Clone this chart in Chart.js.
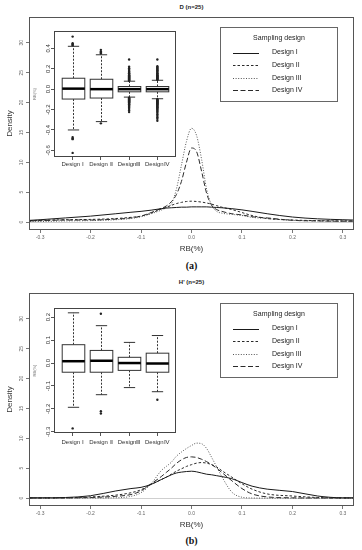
<!DOCTYPE html>
<html>
<head>
<meta charset="utf-8">
<script src="https://cdn.jsdelivr.net/npm/chart.js@4.4.1/dist/chart.umd.min.js"></script>
<style>
    body { margin: 0; width: 362px; height: 550px; background: #fff; position: relative; overflow: hidden; font-family: "Liberation Sans", Arial, sans-serif; }
    .abs { position: absolute; }
    .ptitle { width: 325px; left: 29px; text-align: center; font-size: 6px; font-weight: bold; color: #222; }
    .tag { width: 325px; left: 29px; text-align: center; font: bold 10px "Liberation Serif", serif; color: #111; }
</style>
</head>
<body>

<div class="abs ptitle" style="top:4px">D (n=25)</div>
<canvas id="mainA" class="abs" style="left:0;top:0" width="362" height="258"></canvas>
<canvas id="insetA" class="abs" style="left:30px;top:27px" width="150" height="148"></canvas>
<div class="abs tag" style="top:260px">(a)</div>

<div class="abs ptitle" style="top:279px">H' (n=25)</div>
<canvas id="mainB" class="abs" style="left:0;top:276px" width="362" height="258"></canvas>
<canvas id="insetB" class="abs" style="left:30px;top:304px" width="150" height="147"></canvas>
<div class="abs tag" style="top:535px">(b)</div>

<script>
// x grid of the density curves
const xGrid = [-0.32, -0.3, -0.25, -0.2, -0.15, -0.12, -0.1, -0.08, -0.06, -0.05, -0.04, -0.03, -0.02, -0.01,
    0, 0.01, 0.02, 0.03, 0.04, 0.05, 0.06, 0.08, 0.1, 0.12, 0.15, 0.2, 0.25, 0.3, 0.32];

// D (n=25) densities
const densA1 = [0.3, 0.4, 0.7, 1.0, 1.4, 1.65, 1.8, 2.0, 2.25, 2.35, 2.4, 2.45, 2.5, 2.5,
    2.55, 2.55, 2.55, 2.55, 2.5, 2.45, 2.4, 2.25, 2.05, 1.8, 1.4, 0.85, 0.55, 0.4, 0.35];
const densA2 = [0.25, 0.3, 0.4, 0.45, 0.6, 0.8, 1.0, 1.5, 2.2, 2.5, 2.8, 3.1, 3.3, 3.45,
    3.5, 3.45, 3.35, 3.2, 3.0, 2.75, 2.5, 2.1, 1.6, 1.1, 0.6, 0.35, 0.25, 0.2, 0.2];
const densA3 = [0.1, 0.1, 0.2, 0.25, 0.4, 0.6, 0.9, 1.4, 2.0, 2.4, 3.0, 5.5, 9.5, 13.5,
    15.7, 14.5, 10.5, 5.5, 2.8, 1.8, 1.5, 1.3, 1.1, 0.8, 0.6, 0.3, 0.2, 0.15, 0.15];
const densA4 = [0.2, 0.25, 0.35, 0.35, 0.5, 0.7, 1.0, 1.6, 2.3, 2.7, 3.4, 4.6, 6.8, 10.0,
    12.4, 11.8, 8.5, 4.8, 2.8, 2.1, 1.8, 1.4, 1.2, 0.9, 0.7, 0.3, 0.2, 0.15, 0.15];

// H' (n=25) densities
const densB1 = [0.05, 0.05, 0.1, 0.4, 1.2, 1.6, 1.8, 2.3, 3.1, 3.5, 3.9, 4.2, 4.35, 4.45,
    4.5, 4.4, 4.2, 4.0, 3.9, 3.75, 3.6, 3.25, 2.6, 2.0, 1.5, 1.1, 0.35, 0.05, 0.05];
const densB2 = [0.02, 0.03, 0.05, 0.2, 0.5, 0.9, 1.4, 2.3, 3.1, 3.5, 4.0, 4.5, 4.9, 5.3,
    5.6, 5.85, 5.95, 5.85, 5.6, 5.2, 4.6, 3.5, 2.4, 1.5, 0.7, 0.35, 0.1, 0.02, 0.02];
const densB3 = [0, 0, 0, 0.02, 0.05, 0.3, 0.9, 2.4, 4.6, 5.3, 6.0, 7.0, 7.7, 8.3,
    8.8, 9.2, 9.1, 8.3, 6.8, 5.2, 3.6, 1.0, 0.15, 0.02, 0, 0, 0, 0, 0];
const densB4 = [0.02, 0.02, 0.03, 0.1, 0.3, 0.6, 1.2, 2.4, 3.6, 4.3, 5.0, 5.8, 6.4, 6.8,
    6.9, 6.8, 6.5, 6.1, 5.6, 5.0, 4.3, 2.9, 1.6, 0.7, 0.2, 0.05, 0.02, 0.02, 0.02];

const xTicks = [-0.3, -0.2, -0.1, 0, 0.1, 0.2, 0.3];
const yTicks = [0, 5, 10, 15, 20, 25, 30];

const designs = ['Design \u2160', 'Design \u2161', 'Design\u2162', 'Design\u2163'];
const legendLabels = ['Design I', 'Design II', 'Design III', 'Design IV'];

// boxplot stats: [lower whisker, Q1, median, Q3, upper whisker]
const boxA = [
    [-0.40, -0.097, 0.005, 0.107, 0.42],
    [-0.318, -0.087, 0.0, 0.097, 0.337],
    [-0.078, -0.026, 0.0, 0.026, 0.078],
    [-0.094, -0.026, 0.0, 0.026, 0.087]
];
const outA = [
    [0.43, 0.44, 0.45, 0.515, -0.47, -0.48, -0.49, -0.625],
    [0.35, 0.36, 0.37, 0.385, -0.335],
    [0.082, 0.087, 0.092, 0.097, 0.102, 0.107, 0.112, 0.117, 0.122, 0.127, 0.132, 0.137, 0.142, 0.148,
        0.155, 0.162, 0.17, 0.178, 0.19, 0.205, 0.22, 0.29,
        -0.083, -0.088, -0.093, -0.098, -0.103, -0.108, -0.113, -0.118, -0.123, -0.128, -0.134, -0.14,
        -0.147, -0.155, -0.163, -0.172, -0.182, -0.195, -0.21, -0.225],
    [0.092, 0.097, 0.102, 0.107, 0.112, 0.117, 0.122, 0.127, 0.132, 0.137, 0.142, 0.148, 0.155, 0.162,
        0.17, 0.178, 0.186, 0.195, 0.205, 0.215, 0.225, 0.29,
        -0.098, -0.103, -0.108, -0.113, -0.118, -0.123, -0.128, -0.133, -0.138, -0.143, -0.148, -0.154,
        -0.16, -0.166, -0.172, -0.178, -0.185, -0.192, -0.2, -0.21, -0.22, -0.232, -0.245, -0.26,
        -0.275, -0.29, -0.31]
];
const boxB = [
    [-0.193, -0.04, 0.008, 0.08, 0.219],
    [-0.138, -0.04, 0.01, 0.055, 0.163],
    [-0.107, -0.032, 0.0, 0.025, 0.09],
    [-0.125, -0.04, -0.002, 0.043, 0.12]
];
const outB = [
    [-0.285],
    [0.215, -0.21, -0.22],
    [],
    [-0.16]
];
const insetTicksA = [-0.6, -0.4, -0.2, 0, 0.2, 0.4];
const insetTicksB = [-0.3, -0.2, -0.1, 0, 0.1, 0.2];

// line styles per design
const styles = [
    { color: '#1a1a1a', dash: [] },
    { color: '#2a2a2a', dash: [2.5, 2] },
    { color: '#555', dash: [1, 1.6] },
    { color: '#2a2a2a', dash: [5, 2.5] }
];

const framePlugin = {
    id: 'frame',
    beforeDatasetsDraw(chart, args, opts) {
        if (!opts.zeroLine) return;
        const { ctx, chartArea: a, scales: { y } } = chart;
        const py = Math.round(y.getPixelForValue(0)) + 0.5;
        ctx.save();
        ctx.strokeStyle = '#cfcfcf';
        ctx.lineWidth = 1;
        ctx.beginPath();
        ctx.moveTo(a.left, py);
        ctx.lineTo(a.right, py);
        ctx.stroke();
        ctx.restore();
    },
    afterDraw(chart, args, opts) {
        const { ctx, chartArea: a } = chart;
        ctx.save();
        ctx.strokeStyle = opts.color || '#555';
        ctx.lineWidth = 1;
        ctx.strokeRect(Math.round(a.left) + 0.5, Math.round(a.top) + 0.5,
            Math.round(a.right - a.left) - 1, Math.round(a.bottom - a.top) - 1);
        ctx.restore();
    }
};

// "Sampling design" legend box, top right of each density panel
const legendPlugin = {
    id: 'samplingLegend',
    afterDraw(chart) {
        const ctx = chart.ctx;
        ctx.save();
        ctx.fillStyle = '#fff';
        ctx.fillRect(220, 27, 118, 75);
        ctx.strokeStyle = '#666';
        ctx.lineWidth = 1;
        ctx.strokeRect(220.5, 27.5, 117, 74);
        ctx.fillStyle = '#222';
        ctx.font = '7px "Liberation Sans", Arial, sans-serif';
        ctx.textAlign = 'center';
        ctx.textBaseline = 'middle';
        ctx.fillText('Sampling design', 279, 38.5);
        ctx.textAlign = 'left';
        chart.data.datasets.forEach((ds, i) => {
            const yy = 52.5 + i * 12.6;
            ctx.strokeStyle = ds.borderColor;
            ctx.setLineDash(ds.borderDash);
            ctx.beginPath();
            ctx.moveTo(233, Math.round(yy) + 0.5);
            ctx.lineTo(259, Math.round(yy) + 0.5);
            ctx.stroke();
            ctx.setLineDash([]);
            ctx.fillText(ds.label, 272, yy);
        });
        ctx.restore();
    }
};

function makeBoxPlugin(stats) {
    return {
        id: 'boxes',
        beforeDatasetsDraw(chart) {
            const { ctx, scales: { x, y } } = chart;
            const halfBox = x.getPixelForValue(1.4) - x.getPixelForValue(1);
            stats.forEach((s, i) => {
                const cx = Math.round(x.getPixelForValue(i + 1)) + 0.5;
                const [lo, q1, med, q3, hi] = s.map(v => y.getPixelForValue(v));
                ctx.save();
                ctx.strokeStyle = '#333';
                ctx.lineWidth = 1;
                ctx.setLineDash([2, 1.5]);
                ctx.beginPath();
                ctx.moveTo(cx, q3); ctx.lineTo(cx, hi);
                ctx.moveTo(cx, q1); ctx.lineTo(cx, lo);
                ctx.stroke();
                ctx.setLineDash([]);
                ctx.beginPath();
                ctx.moveTo(cx - halfBox / 2, hi); ctx.lineTo(cx + halfBox / 2, hi);
                ctx.moveTo(cx - halfBox / 2, lo); ctx.lineTo(cx + halfBox / 2, lo);
                ctx.stroke();
                ctx.fillStyle = '#fff';
                ctx.fillRect(cx - halfBox, q3, halfBox * 2, q1 - q3);
                ctx.strokeRect(cx - halfBox, q3, halfBox * 2, q1 - q3);
                ctx.strokeStyle = '#000';
                ctx.lineWidth = 2.5;
                ctx.beginPath();
                ctx.moveTo(cx - halfBox, med); ctx.lineTo(cx + halfBox, med);
                ctx.stroke();
                ctx.restore();
            });
        }
    };
}

function mainChart(id, series) {
    new Chart(document.getElementById(id), {
        type: 'line',
        data: {
            datasets: series.map((ys, i) => ({
                label: legendLabels[i],
                data: xGrid.map((x, k) => ({ x: x, y: ys[k] })),
                borderColor: styles[i].color,
                borderDash: styles[i].dash,
                borderWidth: 1,
                pointRadius: 0,
                cubicInterpolationMode: 'monotone',
                fill: false
            }))
        },
        options: {
            responsive: false,
            animation: false,
            layout: { padding: { top: 17, right: 8, left: 0, bottom: 0 } },
            plugins: { legend: { display: false }, tooltip: { enabled: false }, frame: { zeroLine: true, color: '#555' } },
            scales: {
                x: {
                    type: 'linear', min: -0.322, max: 0.322,
                    afterBuildTicks: s => { s.ticks = xTicks.map(v => ({ value: v })); },
                    afterFit: s => { s.height = 28; },
                    grid: { drawOnChartArea: false, tickLength: 3, color: '#777' },
                    border: { display: false },
                    ticks: { callback: v => v.toFixed(1), font: { size: 5 }, color: '#666', padding: 1.5, maxRotation: 0, autoSkip: false },
                    title: { display: true, text: 'RB(%)', font: { size: 8 }, color: '#333', padding: { top: 0, bottom: 4 } }
                },
                y: {
                    type: 'linear', min: -1.32, max: 34.32,
                    afterBuildTicks: s => { s.ticks = yTicks.map(v => ({ value: v })); },
                    afterFit: s => { s.width = 29; },
                    grid: { drawOnChartArea: false, tickLength: 3, color: '#777' },
                    border: { display: false },
                    ticks: { font: { size: 5 }, color: '#666', minRotation: 90, maxRotation: 90, crossAlign: 'center', padding: 1.2 },
                    title: { display: true, text: 'Density', font: { size: 8 }, color: '#333', padding: { top: 5, bottom: 0 } }
                }
            }
        },
        plugins: [framePlugin, legendPlugin]
    });
}

function insetChart(id, stats, outs, yMin, yMax, yTickVals, xPad) {
    new Chart(document.getElementById(id), {
        type: 'scatter',
        data: {
            datasets: [{
                data: outs.flatMap((vals, i) => vals.map(v => ({ x: i + 1, y: v }))),
                pointRadius: 1.2,
                pointBackgroundColor: '#222',
                pointBorderWidth: 0
            }]
        },
        options: {
            responsive: false,
            animation: false,
            layout: { padding: { top: 2, right: 4, left: 0, bottom: 0 } },
            plugins: { legend: { display: false }, tooltip: { enabled: false }, frame: { color: '#444' } },
            scales: {
                x: {
                    type: 'linear', min: 0.34, max: 4.66,
                    afterBuildTicks: s => { s.ticks = [1, 2, 3, 4].map(v => ({ value: v })); },
                    afterFit: s => { s.height = 18; },
                    grid: { drawOnChartArea: false, tickLength: 3, color: '#555' },
                    border: { display: false },
                    ticks: { callback: v => designs[v - 1], font: { size: 6 }, color: '#333', padding: xPad, maxRotation: 0, autoSkip: false }
                },
                y: {
                    type: 'linear', min: yMin, max: yMax,
                    afterBuildTicks: s => { s.ticks = yTickVals.map(v => ({ value: v })); },
                    afterFit: s => { s.width = 24; },
                    grid: { drawOnChartArea: false, tickLength: 3, color: '#555' },
                    border: { display: false },
                    ticks: { callback: v => v.toFixed(1), font: { size: 6 }, color: '#333', minRotation: 90, maxRotation: 90, crossAlign: 'center', padding: -2.5 },
                    title: { display: true, text: 'RB(%)', font: { size: 4 }, color: '#777', padding: { top: 2.6, bottom: 0 } }
                }
            }
        },
        plugins: [framePlugin, makeBoxPlugin(stats)]
    });
}

mainChart('mainA', [densA1, densA2, densA3, densA4]);
mainChart('mainB', [densB1, densB2, densB3, densB4]);
insetChart('insetA', boxA, outA, -0.665, 0.57, insetTicksA, 0.5);
insetChart('insetB', boxB, outB, -0.305, 0.24, insetTicksB, 3);
</script>
</body>
</html>
